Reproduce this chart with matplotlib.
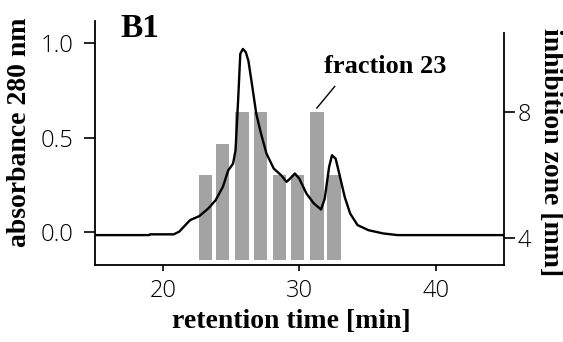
import numpy as np
import matplotlib
matplotlib.use("Agg")
import matplotlib.pyplot as plt

# absorbance trace (retention time in min, absorbance at 280 nm)
time = [15.0, 19.0, 19.07, 20.8, 21.2, 22.0, 22.67, 23.33, 23.87, 24.4, 24.8, 25.15,
        25.33, 25.52, 25.68, 25.87, 26.08, 26.27, 26.53, 26.85, 27.2, 27.6, 28.13,
        28.67, 29.07, 29.33, 29.68, 30.0, 30.53, 31.07, 31.6, 31.87, 32.19, 32.4,
        32.67, 32.93, 33.33, 33.73, 34.27, 35.07, 36.13, 37.2, 45.0]
absorb = [-0.014, -0.014, -0.010, -0.010, 0.004, 0.065, 0.086, 0.126, 0.170, 0.240,
          0.328, 0.363, 0.433, 0.696, 0.942, 0.968, 0.951, 0.907, 0.784, 0.626, 0.521,
          0.416, 0.337, 0.302, 0.267, 0.284, 0.311, 0.284, 0.205, 0.153, 0.121, 0.179,
          0.346, 0.407, 0.389, 0.311, 0.188, 0.100, 0.039, 0.012, -0.005, -0.014, -0.014]

# inhibition zone of collected fractions
bar_time = [23.14, 24.38, 25.82, 27.17, 28.56, 29.88, 31.31, 32.54]
bar_zone = [6, 7, 8, 8, 6, 6, 8, 6]
bar_base = 3.30

x_ticks = [20, 30, 40]
left_ticks = [0.0, 0.5, 1.0]
left_labels = ["0.0", "0.5", "1.0"]
right_ticks = [4, 8]
right_labels = ["4", "8"]

serif = ["Liberation Serif", "DejaVu Serif"]
sans = ["Open Sans", "DejaVu Sans"]

fig = plt.figure(figsize=(5.63, 3.42), dpi=100)
ax = fig.add_axes([0.168, 0.225, 0.727, 0.714])
ax2 = ax.twinx()
ax.set_zorder(ax2.get_zorder() + 1)
ax.patch.set_visible(False)

ax2.bar(bar_time, np.array(bar_zone) - bar_base, bottom=bar_base, width=1.0,
        color="#a3a3a3", edgecolor="none")
ax.plot(time, absorb, color="black", lw=1.7)

ax.set_xlim(15, 45)
ax.set_ylim(-0.172, 1.116)
ax2.set_ylim(3.14, 10.9)

for s in ["top", "right"]:
    ax.spines[s].set_visible(False)
for s in ["top", "left", "bottom"]:
    ax2.spines[s].set_visible(False)
ax2.spines["right"].set_bounds(3.14, 10.5)
for a in (ax, ax2):
    for sp in a.spines.values():
        sp.set_linewidth(1.3)

ax.set_xticks(x_ticks)
ax.set_xticklabels([str(t) for t in x_ticks])
ax.set_yticks(left_ticks)
ax.set_yticklabels(left_labels)
ax2.set_yticks(right_ticks)
ax2.set_yticklabels(right_labels)

ax.tick_params(axis="x", direction="out", length=4, width=1.2, pad=6)
ax.tick_params(axis="y", direction="out", length=8, width=1.2, pad=7)
ax2.tick_params(axis="y", direction="out", length=8, width=1.2, pad=2)
for lab in ax.get_xticklabels() + ax.get_yticklabels() + ax2.get_yticklabels():
    lab.set_fontfamily(sans)
    lab.set_fontweight("light")
    lab.set_fontsize(17)

fig.text(20 / 563, 1 - 132.5 / 342, "absorbance 280 nm", rotation=90, ha="center",
         va="center", family=serif, weight="bold", fontsize=20)
fig.text(551 / 563, 1 - 152.5 / 342, "inhibition zone [mm]", rotation=-90, ha="center",
         va="center", family=serif, weight="bold", fontsize=20)
fig.text(291.5 / 563, 1 - 322 / 342, "retention time [min]", ha="center", va="center",
         family=serif, weight="bold", fontsize=20)

ax.text(0.062, 0.933, "B1", transform=ax.transAxes, ha="left", va="baseline",
        family=serif, weight="bold", fontsize=24)
ax.text(31.8, 0.84, "fraction 23", ha="left", va="baseline",
        family=serif, weight="bold", fontsize=19)
ax.plot([31.29, 32.6], [0.656, 0.77], color="black", lw=1.0)

fig.savefig("out.png", dpi=100)
